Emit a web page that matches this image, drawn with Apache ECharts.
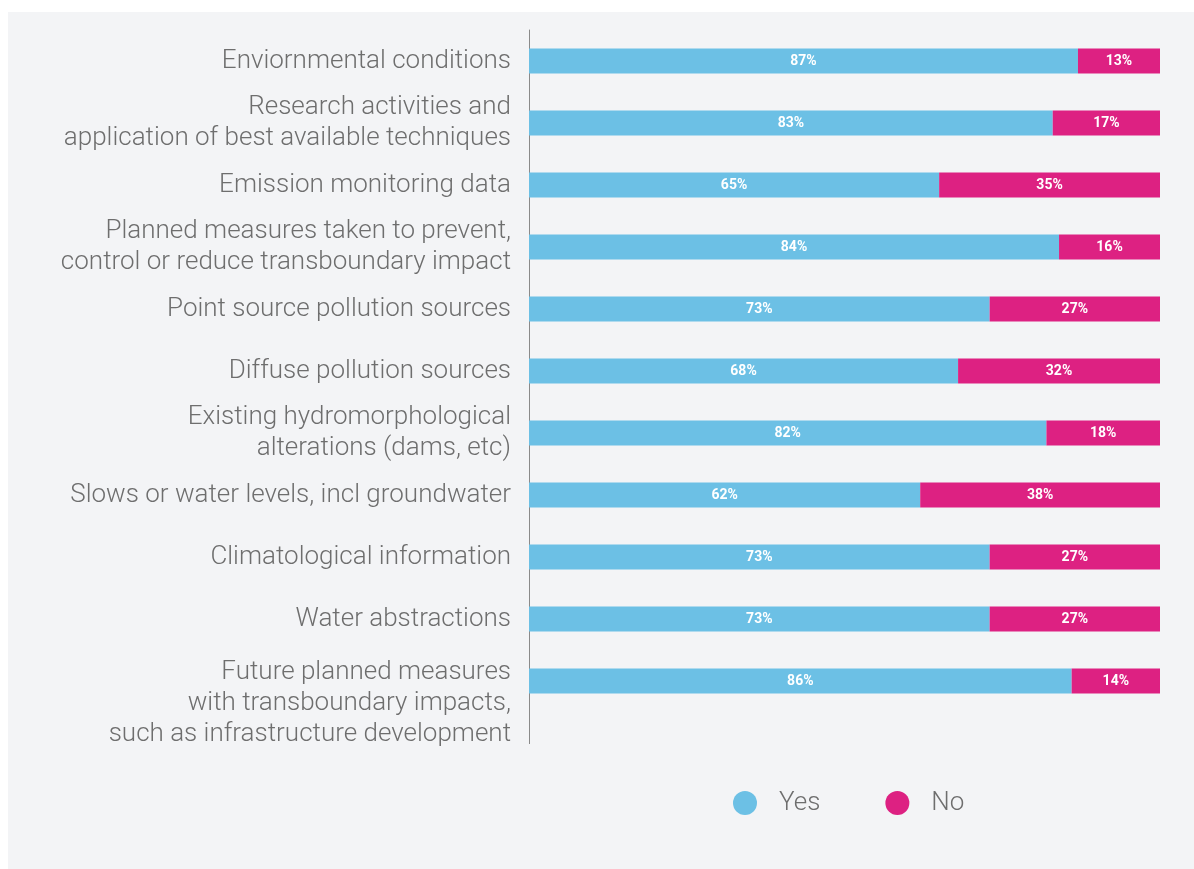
<!DOCTYPE html>
<html>
<head>
<meta charset="utf-8">
<script src="https://cdn.jsdelivr.net/npm/echarts@6/dist/echarts.min.js"></script>
<style>
  html, body { margin: 0; padding: 0; background: #fff; }
  #chart { width: 1194px; height: 869px; }
</style>
</head>
<body>
<div id="chart"></div>
<script>
// categories, top to bottom
const categories = [
  'Enviornmental conditions',
  'Research activities and\napplication of best available techniques',
  'Emission monitoring data',
  'Planned measures taken to prevent,\ncontrol or reduce transboundary impact',
  'Point source pollution sources',
  'Diffuse pollution sources',
  'Existing hydromorphological\nalterations (dams, etc)',
  'Slows or water levels, incl groundwater',
  'Climatological information',
  'Water abstractions',
  'Future planned measures\nwith transboundary impacts,\nsuch as infrastructure development'
];
const yesValues = [87, 83, 65, 84, 73, 68, 82, 62, 73, 73, 86];
const noValues = [13, 17, 35, 16, 27, 32, 18, 38, 27, 27, 14];

const chart = echarts.init(document.getElementById('chart'));

const barLabel = {
  show: true,
  position: 'inside',
  color: '#fff',
  fontFamily: 'Roboto',
  fontWeight: 'bold',
  fontSize: 14,
  formatter: '{c}%'
};

const option = {
  backgroundColor: '#fff',
  animation: false,
  graphic: [
    {
      type: 'rect',
      z: -10,
      shape: { x: 8, y: 12, width: 1186, height: 857 },
      style: { fill: '#f3f4f6' }
    },
    {
      // axis line runs on past the last band
      type: 'line',
      z: 5,
      shape: { x1: 529.5, y1: 712, x2: 529.5, y2: 744 },
      style: { stroke: '#8a8a8a', lineWidth: 1 }
    }
  ],
  legend: {
    data: ['Yes', 'No'],
    left: 728,
    top: 785,
    icon: 'circle',
    itemWidth: 24,
    itemHeight: 24,
    itemGap: 65,
    textStyle: {
      fontFamily: 'Roboto',
      fontWeight: 300,
      fontSize: 26,
      color: '#6e6e6e',
      padding: [0, 0, 0, 17]
    }
  },
  grid: {
    left: 529,
    right: 34,
    top: 30,
    height: 682,
    containLabel: false
  },
  xAxis: {
    type: 'value',
    min: 0,
    max: 100,
    show: false
  },
  yAxis: {
    type: 'category',
    inverse: true,
    data: categories,
    axisTick: { show: false },
    axisLine: { show: true, lineStyle: { color: '#8a8a8a', width: 1 } },
    axisLabel: {
      interval: 0,
      hideOverlap: false,
      margin: 18,
      fontFamily: 'Roboto',
      fontWeight: 300,
      fontSize: 26,
      lineHeight: 31,
      color: '#6e6e6e',
      // the 3-line label hangs lower than its bar in the original
      formatter: function (value, index) {
        if (index === categories.length - 1) {
          return '{sp| }\n' + value;
        }
        return value;
      },
      rich: {
        sp: { fontSize: 1, lineHeight: 44 }
      }
    },
    splitLine: { show: false }
  },
  series: [
    {
      name: 'Yes',
      type: 'bar',
      stack: 'total',
      barWidth: 25,
      data: yesValues,
      itemStyle: { color: '#6cc0e5' },
      label: barLabel
    },
    {
      name: 'No',
      type: 'bar',
      stack: 'total',
      barWidth: 25,
      data: noValues,
      itemStyle: { color: '#dd2182' },
      label: barLabel
    }
  ]
};

chart.setOption(option);
</script>
</body>
</html>
